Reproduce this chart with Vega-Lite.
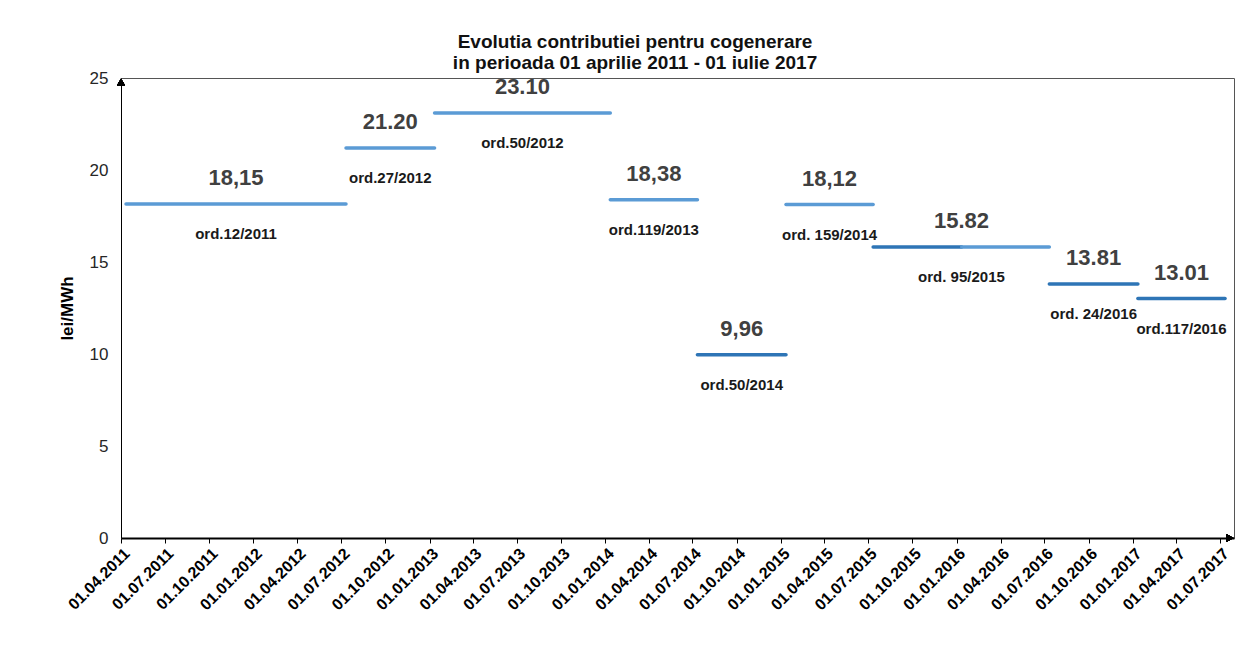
{
  "$schema": "https://vega.github.io/schema/vega-lite/v6.json",
  "width": 1113,
  "height": 460,
  "padding": {"left": 58, "top": 33, "right": 10, "bottom": 5},
  "background": "white",
  "title": {
    "text": ["Evolutia contributiei pentru cogenerare", "in perioada 01 aprilie 2011 - 01 iulie 2017"],
    "font": "Liberation Sans",
    "fontSize": 19,
    "fontWeight": "bold",
    "color": "#111111",
    "anchor": "middle",
    "frame": "bounds",
    "lineHeight": 21,
    "offset": -4,
    "dx": -11
  },
  "config": {
    "font": "Liberation Sans",
    "view": {"stroke": "#555555", "strokeWidth": 1},
    "axisX": {
      "labelFont": "Liberation Sans",
      "labelFontSize": 16,
      "labelFontWeight": "bold",
      "labelColor": "#000000",
      "labelAngle": -45,
      "labelAlign": "right",
      "labelBaseline": "top",
      "labelOverlap": false,
      "labelBound": false,
      "labelFlush": false,
      "labelPadding": 2,
      "domainColor": "#000000",
      "domainWidth": 2,
      "tickColor": "#000000",
      "tickSize": 5,
      "tickWidth": 1,
      "grid": false
    },
    "axisY": {
      "titleFont": "Liberation Sans",
      "titleFontSize": 17,
      "titleFontWeight": "bold",
      "titleColor": "#000000",
      "titlePadding": 13,
      "labelFont": "Liberation Sans",
      "labelFontSize": 17,
      "labelColor": "#262626",
      "labelPadding": 13,
      "ticks": false,
      "grid": false,
      "domainColor": "#000000",
      "domainWidth": 1
    }
  },
  "data": {
    "format": {"parse": {"date": "date"}},
    "values": [
      {"seg": 1, "date": "2011-04-01", "value": 18.15, "label": "18,15", "order": "ord.12/2011", "series": "A"},
      {"seg": 1, "date": "2012-07-01", "value": 18.15, "label": "18,15", "order": "ord.12/2011", "series": "A"},
      {"seg": 2, "date": "2012-07-01", "value": 21.2, "label": "21.20", "order": "ord.27/2012", "series": "A"},
      {"seg": 2, "date": "2013-01-01", "value": 21.2, "label": "21.20", "order": "ord.27/2012", "series": "A"},
      {"seg": 3, "date": "2013-01-01", "value": 23.1, "label": "23.10", "order": "ord.50/2012", "series": "A"},
      {"seg": 3, "date": "2014-01-01", "value": 23.1, "label": "23.10", "order": "ord.50/2012", "series": "A"},
      {"seg": 4, "date": "2014-01-01", "value": 18.38, "label": "18,38", "order": "ord.119/2013", "series": "A"},
      {"seg": 4, "date": "2014-07-01", "value": 18.38, "label": "18,38", "order": "ord.119/2013", "series": "A"},
      {"seg": 5, "date": "2014-07-01", "value": 9.96, "label": "9,96", "order": "ord.50/2014", "series": "B"},
      {"seg": 5, "date": "2015-01-01", "value": 9.96, "label": "9,96", "order": "ord.50/2014", "series": "B"},
      {"seg": 6, "date": "2015-01-01", "value": 18.12, "label": "18,12", "order": "ord. 159/2014", "series": "A"},
      {"seg": 6, "date": "2015-07-01", "value": 18.12, "label": "18,12", "order": "ord. 159/2014", "series": "A"},
      {"seg": 7, "date": "2015-07-01", "value": 15.82, "label": "15.82", "order": "ord. 95/2015", "series": "B"},
      {"seg": 7, "date": "2016-01-01", "value": 15.82, "label": "15.82", "order": "ord. 95/2015", "series": "B"},
      {"seg": 8, "date": "2016-01-01", "value": 15.82, "label": "15.82", "order": "ord. 95/2015", "series": "A"},
      {"seg": 8, "date": "2016-07-01", "value": 15.82, "label": "15.82", "order": "ord. 95/2015", "series": "A"},
      {"seg": 9, "date": "2016-07-01", "value": 13.81, "label": "13.81", "order": "ord. 24/2016", "series": "B"},
      {"seg": 9, "date": "2017-01-01", "value": 13.81, "label": "13.81", "order": "ord. 24/2016", "series": "B"},
      {"seg": 10, "date": "2017-01-01", "value": 13.01, "label": "13.01", "order": "ord.117/2016", "series": "B"},
      {"seg": 10, "date": "2017-07-01", "value": 13.01, "label": "13.01", "order": "ord.117/2016", "series": "B"}
    ]
  },
  "encoding": {
    "x": {
      "field": "date",
      "type": "temporal",
      "title": null,
      "scale": {"type": "utc", "domain": ["2011-04-01", "2017-07-30"], "nice": false},
      "axis": {
        "tickCount": {"interval": "month", "step": 3},
        "labelExpr": "utcFormat(datum.value, '%d.%m.%Y')"
      }
    },
    "y": {
      "field": "value",
      "type": "quantitative",
      "title": "lei/MWh",
      "scale": {"domain": [0, 25], "nice": false},
      "axis": {"values": [0, 5, 10, 15, 20, 25]}
    }
  },
  "layer": [
    {
      "mark": {"type": "line", "strokeWidth": 3.5, "strokeCap": "round", "xOffset": 5, "clip": false},
      "encoding": {
        "detail": {"field": "seg", "type": "nominal"},
        "color": {
          "field": "series",
          "type": "nominal",
          "scale": {"domain": ["A", "B"], "range": ["#5b9bd5", "#2e75b6"]},
          "legend": null
        }
      }
    },
    {
      "transform": [
        {"aggregate": [{"op": "mean", "field": "date", "as": "date"}], "groupby": ["order", "label", "value"]}
      ],
      "mark": {"type": "text", "dy": -26, "xOffset": 5, "fontSize": 22, "fontWeight": "bold", "color": "#404040", "font": "Liberation Sans", "clip": false},
      "encoding": {
        "text": {"field": "label"}
      }
    },
    {
      "transform": [
        {"aggregate": [{"op": "mean", "field": "date", "as": "date"}], "groupby": ["order", "value"]}
      ],
      "mark": {"type": "text", "dy": 30, "xOffset": 5, "fontSize": 15, "fontWeight": "bold", "color": "#1a1a1a", "font": "Liberation Sans", "clip": false},
      "encoding": {
        "text": {"field": "order"}
      }
    },
    {
      "mark": {"type": "point", "shape": "triangle-up", "filled": true, "size": 60, "color": "#000000", "opacity": 1, "yOffset": 4, "clip": false},
      "encoding": {
        "x": {"datum": {"year": 2011, "month": 4, "date": 1, "utc": true}, "type": "temporal"},
        "y": {"datum": 25, "type": "quantitative"}
      }
    },
    {
      "mark": {"type": "point", "shape": "triangle-right", "filled": true, "size": 60, "color": "#000000", "opacity": 1, "xOffset": -4, "clip": false},
      "encoding": {
        "x": {"datum": {"year": 2017, "month": 7, "date": 30, "utc": true}, "type": "temporal"},
        "y": {"datum": 0, "type": "quantitative"}
      }
    }
  ]
}
